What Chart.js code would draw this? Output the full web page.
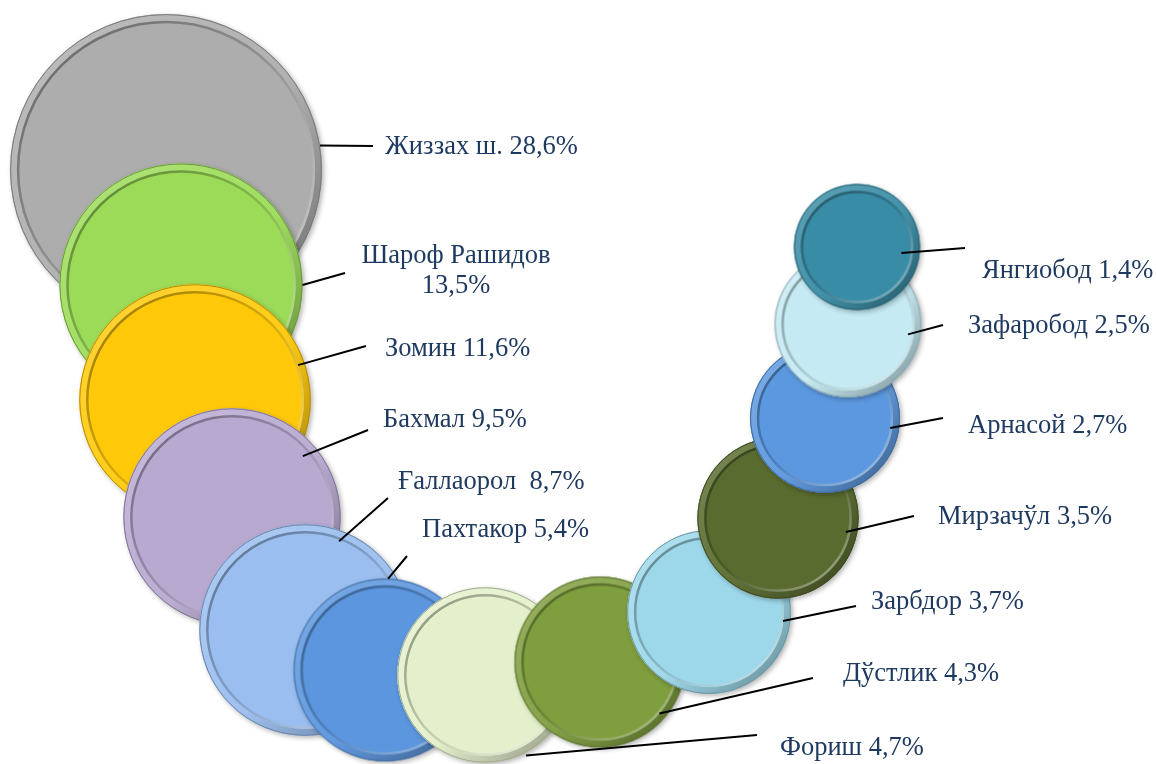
<!DOCTYPE html>
<html lang="uz">
<head>
<meta charset="utf-8">
<title>Туманлар улуши</title>
<script src="https://cdn.jsdelivr.net/npm/chart.js@4.4.1/dist/chart.umd.min.js"></script>
<style>
    html, body { margin: 0; padding: 0; background: #ffffff; }
    .chart-box { position: relative; width: 1156px; height: 764px; }
</style>
</head>
<body>
<div class="chart-box">
    <canvas id="bubbleChart"></canvas>
</div>
<script>
// --- DATA ---
const districts = ['Жиззах ш.', 'Шароф Рашидов', 'Зомин', 'Бахмал', 'Ғаллаорол', 'Пахтакор',
    'Фориш', 'Дўстлик', 'Зарбдор', 'Мирзачўл', 'Арнасой', 'Зафаробод', 'Янгиобод'];
const shares = [28.6, 13.5, 11.6, 9.5, 8.7, 5.4, 4.7, 4.3, 3.7, 3.5, 2.7, 2.5, 1.4];
// bubble centres on the (hidden) x / y axes
const posX = [166, 181, 195, 232, 305, 385, 485, 600, 709, 778, 825, 848, 857];
const posY = [170, 285, 400, 517, 630, 670, 675, 662, 612, 518, 418, 324, 247];

const colors = ['#ADADAD', '#9BDB58', '#FFC90A', '#B8A9D1', '#9ABEEF', '#5B96DE', '#E4F0CB',
    '#7F9E3E', '#9DD8EA', '#596B2E', '#5C98DF', '#C5EAF3', '#398CA5'];

// label text and callout layout: [angle of leader start, start distance / r, end x, end y, text x, text y]
const labelText = ['Жиззах ш. 28,6%', ['Шароф Рашидов', '13,5%'], 'Зомин 11,6%', 'Бахмал 9,5%',
    'Ғаллаорол  8,7%', 'Пахтакор 5,4%', 'Фориш 4,7%', 'Дўстлик 4,3%', 'Зарбдор 3,7%',
    'Мирзачўл 3,5%', 'Арнасой 2,7%', 'Зафаробод 2,5%', 'Янгиобод 1,4%'];
const callouts = [
    [-9, 1.0, 373, 146, 385, 147],
    [0, 1.0, 345, 273, 456, 256],
    [-18.7, 0.94, 366, 346, 385, 349],
    [-40.7, 0.86, 368, 430, 383, 420],
    [-69, 0.9, 388, 498, 398, 482],
    [-88, 1.0, 407, 556, 422, 530],
    [63, 1.03, 757, 735, 780, 748],
    [41, 0.92, 813, 678, 843, 674],
    [7, 0.91, 856, 606, 871, 602],
    [11.6, 0.86, 914, 516, 938, 517],
    [8.7, 0.88, 943, 418, 968, 426],
    [9.8, 0.83, 943, 325, 968, 326],
    [7.6, 0.71, 965, 248, 982, 271]
];

// ukuran gelembung dari nilai
function bubbleRadius(v) {
    return 23.35 + 34.66 * Math.pow(v, 0.4);
}

function shade(hex, amt) {
    const n = parseInt(hex.slice(1), 16);
    let r = n >> 16, g = (n >> 8) & 255, b = n & 255;
    if (amt >= 0) {
        r += (255 - r) * amt; g += (255 - g) * amt; b += (255 - b) * amt;
    } else {
        r *= 1 + amt; g *= 1 + amt; b *= 1 + amt;
    }
    return 'rgb(' + Math.round(r) + ',' + Math.round(g) + ',' + Math.round(b) + ')';
}

// gambar gelembung dengan efek bevel, dipakai sebagai pointStyle
function makeBubble(r, color) {
    const pad = 8;
    const c = document.createElement('canvas');
    c.width = c.height = Math.ceil(2 * r + 2 * pad);
    const g = c.getContext('2d');
    const cx = c.width / 2, cy = c.height / 2;

    g.save();
    g.shadowColor = 'rgba(0,0,0,0.3)';
    g.shadowBlur = 5;
    g.shadowOffsetX = 2;
    g.shadowOffsetY = 2;
    g.beginPath();
    g.arc(cx, cy, r, 0, Math.PI * 2);
    g.fillStyle = color;
    g.fill();
    g.restore();

    // outer rim
    const rim = g.createLinearGradient(cx - r, cy - r, cx + r, cy + r);
    rim.addColorStop(0, shade(color, 0.2));
    rim.addColorStop(0.55, shade(color, 0.05));
    rim.addColorStop(1, shade(color, -0.4));
    g.beginPath();
    g.arc(cx, cy, r - 3.5, 0, Math.PI * 2);
    g.lineWidth = 7;
    g.strokeStyle = rim;
    g.stroke();

    g.beginPath();
    g.arc(cx, cy, r - 0.5, 0, Math.PI * 2);
    g.lineWidth = 1;
    g.strokeStyle = shade(color, -0.3);
    g.stroke();

    // inner groove: dark top-left, light bottom-right
    const groove = g.createLinearGradient(cx - r, cy - r, cx + r, cy + r);
    groove.addColorStop(0, shade(color, -0.45));
    groove.addColorStop(0.5, shade(color, -0.15));
    groove.addColorStop(1, shade(color, 0.55));
    g.beginPath();
    g.arc(cx, cy, r - 8, 0, Math.PI * 2);
    g.lineWidth = 2.5;
    g.strokeStyle = groove;
    g.stroke();
    return c;
}

const bubbleImages = shares.map((v, i) => makeBubble(bubbleRadius(v), colors[i]));

// plugin untuk garis penunjuk dan label
const calloutPlugin = {
    id: 'callouts',
    afterDatasetsDraw(chart) {
        const ctx = chart.ctx;
        const meta = chart.getDatasetMeta(0);
        const xs = chart.scales.x, ys = chart.scales.y;
        ctx.save();
        ctx.strokeStyle = '#000000';
        ctx.lineWidth = 2;
        ctx.fillStyle = '#1F3A60';
        ctx.font = '26.5px "Liberation Serif", "Times New Roman", serif';
        ctx.textBaseline = 'middle';
        meta.data.forEach((pt, i) => {
            const c = callouts[i];
            const r = bubbleRadius(shares[i]) * c[1];
            const a = c[0] * Math.PI / 180;
            ctx.beginPath();
            ctx.moveTo(pt.x + r * Math.cos(a), pt.y + r * Math.sin(a));
            ctx.lineTo(xs.getPixelForValue(c[2]), ys.getPixelForValue(c[3]));
            ctx.stroke();

            const tx = xs.getPixelForValue(c[4]), ty = ys.getPixelForValue(c[5]);
            const t = labelText[i];
            if (Array.isArray(t)) {
                ctx.textAlign = 'center';
                t.forEach((line, k) => ctx.fillText(line, tx, ty + k * 30));
            } else {
                ctx.textAlign = 'left';
                ctx.fillText(t, tx, ty);
            }
        });
        ctx.restore();
    }
};

document.addEventListener('DOMContentLoaded', function() {
    const ctx = document.getElementById('bubbleChart');
    if (!ctx) return;

    new Chart(ctx.getContext('2d'), {
        type: 'bubble',
        data: {
            labels: districts,
            datasets: [{
                label: 'Улуш, %',
                data: shares.map((v, i) => ({ x: posX[i], y: posY[i], r: bubbleRadius(v) })),
                pointStyle: (c) => bubbleImages[c.dataIndex],
                backgroundColor: colors,
                borderWidth: 0,
                clip: false
            }]
        },
        options: {
            responsive: true,
            maintainAspectRatio: false,
            animation: false,
            events: [],
            layout: { padding: 0, autoPadding: false },
            plugins: {
                legend: { display: false },
                tooltip: { enabled: false }
            },
            scales: {
                x: { type: 'linear', min: 0, max: 1156, display: false },
                y: { type: 'linear', min: 0, max: 764, reverse: true, display: false }
            }
        },
        plugins: [calloutPlugin]
    });
});
</script>
</body>
</html>
